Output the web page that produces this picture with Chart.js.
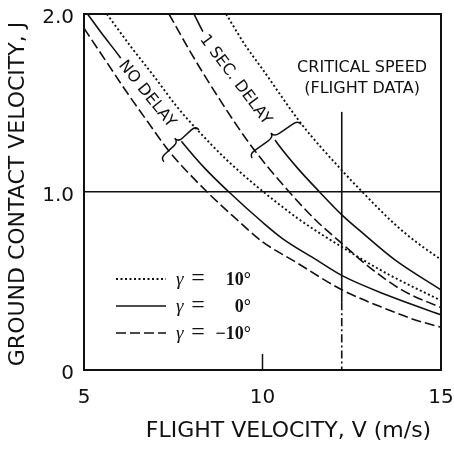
<!DOCTYPE html>
<html>
<head>
<meta charset="utf-8">
<script src="https://cdn.jsdelivr.net/npm/chart.js@4.4.1/dist/chart.umd.min.js"></script>
<style>
  html, body { margin: 0; padding: 0; background: #fff; }
  #wrap { width: 454px; height: 450px; }
</style>
</head>
<body>
<div id="wrap"><canvas id="contact-chart"></canvas></div>
<script>
// ground contact velocity J vs flight velocity V, for glide angle gamma

const xTicks = [5, 10, 15];
const yTicks = [0, 1, 2];

// NO DELAY
const noDelayUpV = [5.64, 6.3, 7.0, 7.6, 8.17, 9.0, 9.85, 11.0, 12.23, 13.5, 15];
const noDelayUpJ = [2.0, 1.82, 1.64, 1.48, 1.35, 1.18, 1.03, 0.85, 0.69, 0.54, 0.39];
const noDelayLevelV = [5.1, 5.5, 6.0, 6.9, 7.75, 8.4, 9.06, 10.0, 10.55, 11.5, 12.23, 13.5, 15];
const noDelayLevelJ = [2.0, 1.89, 1.76, 1.5, 1.28, 1.13, 1.0, 0.83, 0.74, 0.62, 0.53, 0.42, 0.31];
const noDelayDownV = [5.0, 5.6, 6.2, 6.8, 7.38, 8.45, 9.2, 10.0, 10.9, 12.23, 13.5, 14.3, 15];
const noDelayDownJ = [1.92, 1.74, 1.56, 1.39, 1.23, 1.0, 0.86, 0.72, 0.61, 0.45, 0.34, 0.28, 0.24];

// 1 SEC. DELAY
const delayUpV = [8.98, 9.5, 10.0, 11.1, 12.23, 12.75, 13.7, 14.3, 15];
const delayUpJ = [2.0, 1.83, 1.69, 1.38, 1.12, 1.01, 0.82, 0.72, 0.62];
const delayLevelV = [8.08, 8.36, 9.0, 9.7, 10.43, 11.0, 11.6, 12.23, 12.8, 13.7, 15];
const delayLevelJ = [2.0, 1.89, 1.69, 1.48, 1.27, 1.13, 1.0, 0.87, 0.77, 0.62, 0.45];
const delayDownV = [7.38, 8.0, 8.8, 9.68, 10.75, 11.5, 12.23, 12.98, 13.9, 15];
const delayDownJ = [2.0, 1.78, 1.52, 1.26, 1.0, 0.84, 0.71, 0.58, 0.45, 0.35];

// critical speed (flight data)
const criticalV = 12.22;
const criticalSolidJ = [1.45, 0.38];
const criticalDashJ = [0.38, 0];

// legend entries
const legendGammas = ['10°', '0°', '\u221210°'];

const DOTTED = [2, 2.5];
const SOLID = [];
const DASHED = [10, 4];
const legendDashes = [DOTTED, SOLID, DASHED];

const toPoints = (vs, js) => vs.map((v, i) => ({ x: v, y: js[i] }));

function curve(vs, js, dash) {
  return {
    data: toPoints(vs, js),
    borderColor: '#111',
    borderWidth: dash === DOTTED ? 1.9 : 1.6,
    borderDash: dash,
    pointRadius: 0,
    cubicInterpolationMode: 'monotone',
    fill: false
  };
}

function drawBrace(ctx, ax, ay, bx, by, h) {
  const L = Math.hypot(bx - ax, by - ay);
  const ux = (bx - ax) / L, uy = (by - ay) / L;
  const nx = uy, ny = -ux; // points up-left, towards the label
  const p = (t, k) => [ax + ux * L * t + nx * k, ay + uy * L * t + ny * k];
  ctx.beginPath();
  ctx.moveTo(...p(0, 0));
  ctx.quadraticCurveTo(...p(0, h), ...p(0.12, h));
  ctx.lineTo(...p(0.38, h));
  ctx.quadraticCurveTo(...p(0.5, h), ...p(0.5, 2 * h));
  ctx.quadraticCurveTo(...p(0.5, h), ...p(0.62, h));
  ctx.lineTo(...p(0.88, h));
  ctx.quadraticCurveTo(...p(1, h), ...p(1, 0));
  ctx.stroke();
}

function curveLabel(ctx, text, px, py, deg) {
  ctx.save();
  ctx.translate(px, py);
  ctx.rotate(deg * Math.PI / 180);
  ctx.font = '16px "DejaVu Sans"';
  const w = ctx.measureText(text).width;
  ctx.fillStyle = '#fff';
  ctx.fillRect(-w / 2 - 4, -7, w + 22, 14);
  ctx.fillStyle = '#111';
  ctx.textAlign = 'center';
  ctx.textBaseline = 'middle';
  ctx.fillText(text, 0, 0);
  ctx.restore();
}

const annotate = {
  id: 'annotate',
  afterDraw(chart) {
    const { ctx, chartArea: a, scales: { x, y } } = chart;
    ctx.save();
    ctx.strokeStyle = '#111';
    ctx.fillStyle = '#111';

    // frame + inner tick marks
    ctx.lineWidth = 2;
    ctx.strokeRect(a.left, a.top, a.right - a.left, a.bottom - a.top);
    ctx.lineWidth = 1.5;
    xTicks.slice(1, -1).forEach(v => {
      const px = x.getPixelForValue(v);
      ctx.beginPath();
      ctx.moveTo(px, a.bottom);
      ctx.lineTo(px, a.bottom - 16);
      ctx.stroke();
    });

    // curve group labels and braces
    curveLabel(ctx, 'NO DELAY', x.getPixelForValue(6.76), y.getPixelForValue(1.55), 51);
    curveLabel(ctx, '1 SEC. DELAY', x.getPixelForValue(9.24), y.getPixelForValue(1.63), 53);
    ctx.lineWidth = 1.5;
    drawBrace(ctx, x.getPixelForValue(7.24), y.getPixelForValue(1.17),
      x.getPixelForValue(8.22), y.getPixelForValue(1.35), 5);
    drawBrace(ctx, x.getPixelForValue(9.71), y.getPixelForValue(1.19),
      x.getPixelForValue(11.08), y.getPixelForValue(1.38), 5);

    // critical speed note
    ctx.font = '16px "DejaVu Sans"';
    ctx.textAlign = 'center';
    ctx.textBaseline = 'middle';
    ctx.fillText('CRITICAL SPEED', x.getPixelForValue(12.79), y.getPixelForValue(1.70));
    ctx.fillText('(FLIGHT DATA)', x.getPixelForValue(12.79), y.getPixelForValue(1.58));

    // legend
    legendGammas.forEach((g, i) => {
      const ly = a.bottom - 91 + i * 27;
      ctx.setLineDash(legendDashes[i]);
      ctx.lineWidth = i === 0 ? 1.9 : 1.6;
      ctx.beginPath();
      ctx.moveTo(a.left + 32, ly);
      ctx.lineTo(a.left + 82, ly);
      ctx.stroke();
      ctx.setLineDash([]);
      ctx.font = 'italic 19px "Liberation Serif"';
      ctx.textAlign = 'left';
      ctx.fillText('\u03b3', a.left + 92, ly + 1);
      ctx.font = '24px "Liberation Serif"';
      ctx.textAlign = 'center';
      ctx.fillText('=', a.left + 114, ly);
      ctx.font = 'bold 18px "Liberation Serif"';
      ctx.textAlign = 'right';
      ctx.fillText(g, a.left + 167, ly + 1);
    });

    // axis titles
    ctx.font = '22px "DejaVu Sans"';
    ctx.textAlign = 'center';
    ctx.fillText('FLIGHT VELOCITY, V (m/s)', (a.left + a.right) / 2 + 26, 431);
    ctx.translate(18, (a.top + a.bottom) / 2 + 2);
    ctx.rotate(-Math.PI / 2);
    ctx.fillText('GROUND CONTACT VELOCITY, J', 0, 0);
    ctx.restore();
  }
};

const tickFont = { family: 'DejaVu Sans', size: 20 };

new Chart(document.getElementById('contact-chart'), {
  type: 'line',
  data: {
    datasets: [
      curve(noDelayUpV, noDelayUpJ, DOTTED),
      curve(noDelayLevelV, noDelayLevelJ, SOLID),
      curve(noDelayDownV, noDelayDownJ, DASHED),
      curve(delayUpV, delayUpJ, DOTTED),
      curve(delayLevelV, delayLevelJ, SOLID),
      curve(delayDownV, delayDownJ, DASHED),
      curve([criticalV, criticalV], criticalSolidJ, SOLID),
      curve([criticalV, criticalV], criticalDashJ, [8, 3, 2, 3])
    ]
  },
  options: {
    responsive: true,
    maintainAspectRatio: false,
    animation: false,
    devicePixelRatio: 1,
    layout: { padding: { top: 14, right: 13, left: 0, bottom: 0 } },
    plugins: { legend: { display: false }, tooltip: { enabled: false } },
    scales: {
      x: {
        type: 'linear', min: 5, max: 15,
        afterBuildTicks: axis => { axis.ticks = xTicks.map(v => ({ value: v })); },
        afterFit: s => { s.height = 80; s.paddingLeft = 0; s.paddingRight = 0; },
        ticks: { font: tickFont, color: '#111', padding: 16, maxRotation: 0 },
        grid: { display: false, drawTicks: false },
        border: { display: true, color: '#111', width: 2 }
      },
      y: {
        min: 0, max: 2,
        afterBuildTicks: axis => { axis.ticks = yTicks.map(v => ({ value: v })); },
        afterFit: s => { s.width = 84; s.paddingTop = 0; s.paddingBottom = 0; },
        ticks: {
          font: tickFont, color: '#111', padding: 10, labelOffset: 4,
          callback: v => v === 0 ? '0' : v.toFixed(1)
        },
        grid: {
          drawTicks: false, lineWidth: 1.5,
          color: c => c.tick && c.tick.value === 1 ? '#111' : 'rgba(0,0,0,0)'
        },
        border: { display: true, color: '#111', width: 2 }
      }
    }
  },
  plugins: [annotate]
});
</script>
</body>
</html>
